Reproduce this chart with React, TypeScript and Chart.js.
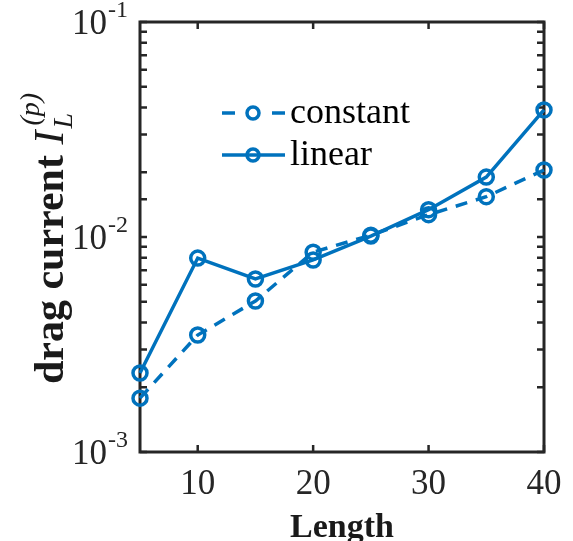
import React, { useEffect, useRef } from "react";
import { Chart, registerables } from "chart.js";

Chart.register(...registerables);

const lengths = [5, 10, 15, 20, 25, 30, 35, 40];
const constantVals = [1.78e-3, 3.5e-3, 5.04e-3, 8.5e-3, 1.02e-2, 1.27e-2, 1.54e-2, 2.05e-2];
const linearVals = [2.33e-3, 7.98e-3, 6.38e-3, 7.82e-3, 1.01e-2, 1.34e-2, 1.9e-2, 3.9e-2];
const xTickValues = [10, 20, 30, 40];
const yDecades = [1e-3, 1e-2, 1e-1];
const yExponents = ["-3", "-2", "-1"];
const seriesNames = ["constant", "linear"];

const BLUE = "#0072BD";
const AXIS = "#262626";
const SERIF = '"Liberation Serif", "Times New Roman", serif';

const matlabPlugin = {
  id: "matlabAxes",
  beforeDatasetsDraw(chart: any) {
    const { ctx, chartArea: a, scales } = chart;
    const xs = scales.x;
    const ys = scales.y;
    ctx.save();
    ctx.strokeStyle = AXIS;
    ctx.lineWidth = 3;
    ctx.strokeRect(a.left, a.top, a.right - a.left, a.bottom - a.top);
    const tl = 7;
    ctx.lineWidth = 2.5;
    ctx.beginPath();
    xTickValues.forEach((v) => {
      const px = xs.getPixelForValue(v);
      ctx.moveTo(px, a.bottom);
      ctx.lineTo(px, a.bottom - tl);
      ctx.moveTo(px, a.top);
      ctx.lineTo(px, a.top + tl);
    });
    ys.ticks.forEach((t: any) => {
      const py = ys.getPixelForValue(t.value);
      ctx.moveTo(a.left, py);
      ctx.lineTo(a.left + tl, py);
      ctx.moveTo(a.right, py);
      ctx.lineTo(a.right - tl, py);
    });
    ctx.stroke();

    // y tick labels with superscripts
    ctx.fillStyle = AXIS;
    ctx.textBaseline = "alphabetic";
    yDecades.forEach((v, i) => {
      const py = ys.getPixelForValue(v);
      ctx.font = `35px ${SERIF}`;
      const wBase = ctx.measureText("10").width;
      ctx.font = `24px ${SERIF}`;
      const wExp = ctx.measureText(yExponents[i]).width;
      const right = a.left - 13;
      const xStart = right - wBase - wExp;
      ctx.font = `35px ${SERIF}`;
      ctx.textAlign = "left";
      ctx.fillText("10", xStart, py + 12);
      ctx.font = `24px ${SERIF}`;
      ctx.fillText(yExponents[i], xStart + wBase + 1, py - 5);
    });

    // x title
    ctx.font = `bold 34px ${SERIF}`;
    ctx.textAlign = "center";
    ctx.fillStyle = "#1a1a1a";
    ctx.fillText("Length", (a.left + a.right) / 2, 537);

    // y title (rotated)
    ctx.save();
    const cy = (a.top + a.bottom) / 2 + 2;
    ctx.translate(63, cy);
    ctx.rotate(-Math.PI / 2);
    ctx.textAlign = "left";
    const boldFont = `bold 42px ${SERIF}`;
    const itFont = `italic 42px ${SERIF}`;
    const smallIt = `italic 28px ${SERIF}`;
    ctx.font = boldFont;
    const w1 = ctx.measureText("drag current ").width;
    ctx.font = itFont;
    const w2 = ctx.measureText("I").width;
    ctx.font = smallIt;
    const w3 = Math.max(ctx.measureText("L").width, ctx.measureText("(p)").width + 2);
    const total = w1 + w2 + 2 + w3;
    let x = -total / 2;
    ctx.font = boldFont;
    ctx.fillText("drag current ", x, 0);
    x += w1;
    ctx.font = itFont;
    ctx.fillText("I", x, 0);
    x += w2 + 2;
    ctx.font = smallIt;
    ctx.fillText("L", x, 9);
    ctx.fillText("(p)", x + 3, -24);
    ctx.restore();

    ctx.restore();
  },
  afterDatasetsDraw(chart: any) {
    const { ctx } = chart;
    ctx.save();
    const rows = [
      { y: 113, dashed: true, label: seriesNames[0] },
      { y: 155, dashed: false, label: seriesNames[1] },
    ];
    rows.forEach((r) => {
      ctx.strokeStyle = BLUE;
      ctx.lineWidth = 3.5;
      ctx.beginPath();
      if (r.dashed) {
        ctx.moveTo(222, r.y);
        ctx.lineTo(235, r.y);
        ctx.moveTo(272, r.y);
        ctx.lineTo(285, r.y);
      } else {
        ctx.moveTo(222, r.y);
        ctx.lineTo(285, r.y);
      }
      ctx.stroke();
      ctx.beginPath();
      ctx.arc(253, r.y, 6, 0, Math.PI * 2);
      ctx.stroke();
      ctx.fillStyle = "#000";
      ctx.font = `36px ${SERIF}`;
      ctx.textAlign = "left";
      ctx.textBaseline = "alphabetic";
      ctx.fillText(r.label, 290, r.y + 10);
    });
    ctx.restore();
  },
};

export default function App() {
  const ref = useRef<HTMLCanvasElement>(null);
  useEffect(() => {
    document.body.style.margin = "0";
    const canvas = ref.current!;
    const chart = new Chart(canvas, {
      type: "line",
      data: {
        datasets: [
          {
            label: seriesNames[0],
            data: lengths.map((l, i) => ({ x: l, y: constantVals[i] })),
            borderColor: BLUE,
            borderWidth: 3.5,
            borderDash: [12, 9],
            pointRadius: 7,
            pointBorderWidth: 3.5,
            pointBorderColor: BLUE,
            pointBackgroundColor: "rgba(0,0,0,0)",
            tension: 0,
            clip: 12,
          } as any,
          {
            label: seriesNames[1],
            data: lengths.map((l, i) => ({ x: l, y: linearVals[i] })),
            borderColor: BLUE,
            borderWidth: 3.5,
            pointRadius: 7,
            pointBorderWidth: 3.5,
            pointBorderColor: BLUE,
            pointBackgroundColor: "rgba(0,0,0,0)",
            tension: 0,
            clip: 12,
          } as any,
        ],
      },
      options: {
        responsive: false,
        animation: false,
        devicePixelRatio: 1,
        layout: { padding: { left: 0, right: 29, top: 22, bottom: 0 } },
        plugins: { legend: { display: false }, tooltip: { enabled: false } },
        scales: {
          x: {
            type: "linear",
            min: 5,
            max: 40,
            grid: { display: false },
            border: { display: false },
            ticks: {
              font: { family: SERIF, size: 35 },
              color: AXIS,
              padding: 4,
              maxRotation: 0,
              autoSkip: false,
            },
            afterBuildTicks: (s: any) => {
              s.ticks = xTickValues.map((v) => ({ value: v }));
            },
            afterFit: (s: any) => {
              s.height = 89;
            },
          },
          y: {
            type: "logarithmic",
            min: 1e-3,
            max: 1e-1,
            grid: { display: false },
            border: { display: false },
            ticks: { display: false },
            afterFit: (s: any) => {
              s.width = 140;
            },
          },
        },
      },
      plugins: [matlabPlugin],
    });
    return () => chart.destroy();
  }, []);
  return (
    <div style={{ width: 573, height: 541, background: "#fff" }}>
      <canvas ref={ref} width={573} height={541} style={{ display: "block" }} />
    </div>
  );
}
